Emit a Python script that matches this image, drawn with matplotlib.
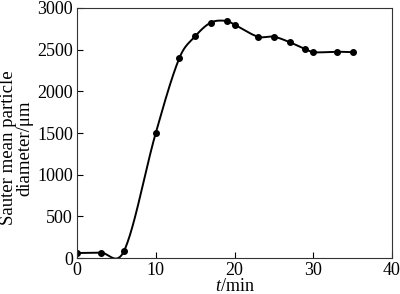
import numpy as np
import matplotlib
matplotlib.use("Agg")
import matplotlib.pyplot as plt

# data
t_min = [0, 3, 6, 10, 13, 15, 17, 19, 20, 23, 25, 27, 29, 30, 33, 35]
d32 = [60, 65, 90, 1500, 2400, 2660, 2825, 2845, 2800, 2655, 2655, 2590, 2505, 2470, 2475, 2470]

x_ticks = [0, 10, 20, 30, 40]
y_ticks = [0, 500, 1000, 1500, 2000, 2500, 3000]


def smooth_line(x, y, n_per_seg=40):
    # catmull-rom style hermite curve through the points (drawing only)
    x = np.asarray(x, float)
    y = np.asarray(y, float)
    n = len(x)
    m = np.zeros(n)
    m[0] = (y[1] - y[0]) / (x[1] - x[0])
    m[-1] = (y[-1] - y[-2]) / (x[-1] - x[-2])
    for i in range(1, n - 1):
        m[i] = (y[i + 1] - y[i - 1]) / (x[i + 1] - x[i - 1])
    xs, ys = [], []
    for i in range(n - 1):
        h = x[i + 1] - x[i]
        s = np.linspace(0, 1, n_per_seg)
        h00 = 2 * s**3 - 3 * s**2 + 1
        h10 = s**3 - 2 * s**2 + s
        h01 = -2 * s**3 + 3 * s**2
        h11 = s**3 - s**2
        xs.append(x[i] + s * h)
        ys.append(h00 * y[i] + h10 * h * m[i] + h01 * y[i + 1] + h11 * h * m[i + 1])
    return np.concatenate(xs), np.concatenate(ys)


plt.rcParams['font.family'] = ['Liberation Serif', 'DejaVu Serif']
plt.rcParams['mathtext.fontset'] = 'custom'
plt.rcParams['mathtext.it'] = 'Liberation Serif:italic'
plt.rcParams['mathtext.rm'] = 'Liberation Serif'

fig = plt.figure(figsize=(4, 2.94), dpi=100)
ax = fig.add_axes([0.1925, 0.1224, 0.7875, 0.8504])

xs, ys = smooth_line(t_min, d32)
ax.plot(xs, ys, color='black', lw=1.4)
ax.plot(t_min, d32, 'o', color='black', ms=4)

ax.set_xlim(0, 40)
ax.set_ylim(0, 3000)
ax.set_xticks(x_ticks)
ax.set_yticks(y_ticks)
ax.tick_params(direction='in', length=4, width=0.8, labelsize=13, pad=3)
for s in ax.spines.values():
    s.set_linewidth(0.8)
    s.set_color('#333333')

ax.set_xlabel('$t$/min', fontsize=13, labelpad=-1)
ax.set_ylabel('Sauter mean particle\ndiameter/\u03bcm', fontsize=13.5, linespacing=0.9)
ax.yaxis.set_label_coords(-0.14, 0.44)

fig.savefig('out.png', dpi=100)
